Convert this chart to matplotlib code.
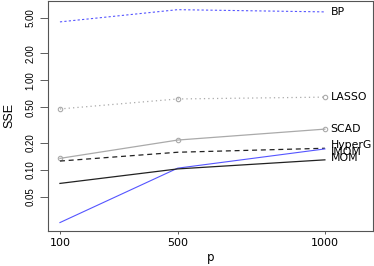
import numpy as np
import matplotlib
matplotlib.use("Agg")
import matplotlib.pyplot as plt
from matplotlib.ticker import FixedLocator, NullLocator

plt.rcParams['font.family'] = ['DejaVu Sans']

p = [100, 500, 1000]
methods = ['BP', 'LASSO', 'SCAD', 'HyperG', 'IMOM', 'MOM']
sse_bp = [4.48, 6.13, 5.79]
sse_lasso = [0.48, 0.62, 0.65]
sse_scad = [0.135, 0.216, 0.286]
sse_hyperg = [0.126, 0.158, 0.175]
sse_imom = [0.026, 0.105, 0.172]
sse_mom = [0.071, 0.103, 0.13]
yticks = [0.05, 0.10, 0.20, 0.50, 1.00, 2.00, 5.00]

fig = plt.figure(figsize=(3.74, 2.66), dpi=100)
ax = fig.add_axes([0.128, 0.132, 0.869, 0.866])

ax.plot(p, sse_bp, color='#5555ff', lw=0.8, ls=(0, (2, 2)))
ax.plot(p, sse_lasso, color='#aaaaaa', lw=0.9, ls=(0, (1, 2.5)),
        marker='o', ms=3.2, mfc='none', mew=0.8)
ax.plot(p, sse_scad, color='#aaaaaa', lw=0.9,
        marker='o', ms=3.2, mfc='none', mew=0.8)
ax.plot(p, sse_hyperg, color='#222222', lw=0.9, ls=(0, (4, 3)))
ax.plot(p, sse_imom, color='#5555ff', lw=0.8)
ax.plot(p, sse_mom, color='#222222', lw=0.9)

# labels at the right end of each line (HyperG / IMOM overlap as in the original)
last = [sse_bp[-1], sse_lasso[-1], sse_scad[-1], sse_hyperg[-1], sse_imom[-1], sse_mom[-1]]
dy = [0, 0, 0, 2, -2, 1.5]
for name, v, d in zip(methods, last, dy):
    ax.annotate(name, (p[-1], v), xytext=(4, d), textcoords='offset points',
                va='center', ha='left', fontsize=7.8)

ax.set_yscale('log')
ax.set_xlim(59, 1163)
ax.set_ylim(0.021, 7.75)
ax.set_xticks(p)
ax.set_xticklabels([str(v) for v in p])
ax.yaxis.set_major_locator(FixedLocator(yticks))
ax.yaxis.set_minor_locator(NullLocator())
ax.set_yticklabels([f'{v:.2f}' for v in yticks], rotation=90, va='center',
                   family='Liberation Sans', fontsize=7)
ax.tick_params(axis='x', labelsize=8, length=2.5, width=0.6, color='#444444', pad=2.5)
ax.tick_params(axis='y', length=5.5, width=0.6, color='#444444', pad=3.5)
for s in ax.spines.values():
    s.set_linewidth(0.8)
    s.set_color('#555555')
ax.set_xlabel('p', fontsize=8.5, labelpad=2)
ax.set_ylabel('SSE', fontsize=9, family='Liberation Sans')
ax.yaxis.set_label_coords(-0.10, 0.5)

fig.savefig('out.png', dpi=100)
